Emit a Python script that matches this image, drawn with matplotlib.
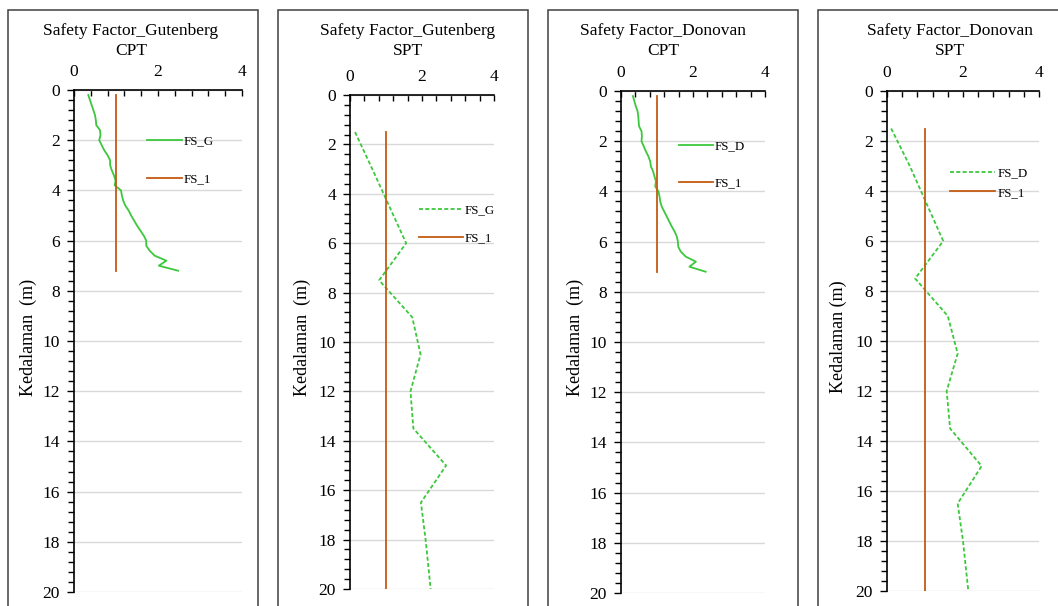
import matplotlib
matplotlib.use("Agg")
from matplotlib import pyplot as plt
from matplotlib.patches import Rectangle
from matplotlib.ticker import MultipleLocator

plt.rcParams['font.family'] = ['Liberation Serif', 'DejaVu Serif']

W, H = 1058, 606

# --- data ---
depth_cpt = [0.2, 0.4, 0.6, 0.8, 1.0, 1.2, 1.4, 1.6, 1.8, 2.0, 2.2, 2.4,
             2.6, 2.8, 3.0, 3.2, 3.4, 3.6, 3.8, 4.0, 4.2, 4.4, 4.6, 4.8,
             5.0, 5.2, 5.4, 5.6, 5.8, 6.0, 6.2, 6.4, 6.6, 6.8, 7.0, 7.2]
fs_g_cpt = [0.34, 0.38, 0.42, 0.46, 0.50, 0.52, 0.53, 0.62, 0.63, 0.60, 0.66, 0.72,
            0.80, 0.86, 0.86, 0.90, 0.95, 0.99, 0.97, 1.12, 1.14, 1.17, 1.22, 1.30,
            1.36, 1.43, 1.50, 1.58, 1.66, 1.72, 1.72, 1.80, 1.92, 2.20, 2.02, 2.48]
fs_d_cpt = [0.33, 0.37, 0.41, 0.46, 0.48, 0.49, 0.50, 0.57, 0.58, 0.57, 0.63, 0.69,
            0.76, 0.81, 0.83, 0.89, 0.93, 0.97, 0.95, 1.04, 1.07, 1.09, 1.13, 1.20,
            1.27, 1.34, 1.41, 1.49, 1.55, 1.58, 1.59, 1.66, 1.80, 2.08, 1.90, 2.35]

depth_spt = [1.5, 3.0, 4.5, 6.0, 7.5, 9.0, 10.5, 12.0, 13.5, 15.0, 16.5, 18.0, 20.0]
fs_g_spt = [0.14, 0.62, 1.09, 1.56, 0.81, 1.73, 1.96, 1.68, 1.76, 2.67, 1.97, 2.10, 2.24]
fs_d_spt = [0.11, 0.60, 1.04, 1.48, 0.74, 1.60, 1.86, 1.57, 1.66, 2.49, 1.86, 2.00, 2.14]

fs_limit = 1.0

GREEN = '#3CC83C'
ORANGE = '#C55A11'

fig = plt.figure(figsize=(W / 100, H / 100), dpi=100)


def px_axes(left, right, top, bottom):
    return fig.add_axes([left / W, 1 - bottom / H, (right - left) / W, (bottom - top) / H])


# chart area frames (left, right) in pixels
frames = [(8, 258), (278, 528), (548, 798), (818, 1080)]
for l, r in frames:
    fig.patches.append(Rectangle((l / W, -0.1), (r - l) / W, (H - 10) / H + 0.1,
                                 transform=fig.transFigure, fill=False,
                                 edgecolor='#404040', linewidth=1.1))

panels = [
    dict(box=(74, 242, 90, 592), title="Safety Factor_Gutenberg\nCPT", tx=131,
         depth=depth_cpt, fs=fs_g_cpt, label="FS_G", dashed=False,
         ylab_x=28, ylab="Kedalaman  (m)",
         leg=(147, 141, 2.7, 2.05)),
    dict(box=(350, 494, 95, 589), title="Safety Factor_Gutenberg\nSPT", tx=408,
         depth=depth_spt, fs=fs_g_spt, label="FS_G", dashed=True,
         ylab_x=302, ylab="Kedalaman  (m)",
         leg=(419, 210, 3.4, 1.25)),
    dict(box=(621, 765, 91, 593), title="Safety Factor_Donovan\nCPT", tx=663,
         depth=depth_cpt, fs=fs_d_cpt, label="FS_D", dashed=False,
         ylab_x=575, ylab="Kedalaman  (m)",
         leg=(679, 146, 2.6, 1.95)),
    dict(box=(887, 1039, 91, 591), title="Safety Factor_Donovan\nSPT", tx=950,
         depth=depth_spt, fs=fs_d_spt, label="FS_D", dashed=True,
         ylab_x=838, ylab="Kedalaman (m)",
         leg=(950, 173, 3.5, 0.6)),
]

for p in panels:
    l, r, t, b = p['box']
    ax = px_axes(l, r, t, b)
    ls = (0, (2.2, 1.3)) if p['dashed'] else '-'
    ax.plot(p['fs'], p['depth'], color=GREEN, lw=1.3, linestyle=ls, label=p['label'])
    ax.plot([fs_limit] * 2, [p['depth'][0], p['depth'][-1]], color=ORANGE, lw=1.3, label="FS_1")

    ax.set_xlim(0, 4)
    ax.set_ylim(20, 0)
    ax.xaxis.set_major_locator(MultipleLocator(2))
    ax.xaxis.set_minor_locator(MultipleLocator(0.4))
    ax.yaxis.set_major_locator(MultipleLocator(2))
    ax.yaxis.set_minor_locator(MultipleLocator(0.4))
    ax.xaxis.tick_top()
    ax.tick_params(axis='x', which='major', direction='in', length=4, width=1, labelsize=12.5, pad=7)
    ax.tick_params(axis='x', which='minor', direction='in', length=4, width=1)
    ax.tick_params(axis='y', which='major', direction='out', length=5, width=1, labelsize=12.5, pad=5)
    ax.tick_params(axis='y', which='minor', direction='out', length=4, width=1)
    for s in ['right', 'bottom']:
        ax.spines[s].set_visible(False)
    for s in ['left', 'top']:
        ax.spines[s].set_linewidth(1.2)
        ax.spines[s].set_color('black')
    ax.grid(axis='y', which='major', color='#D9D9D9', lw=1)
    ax.set_axisbelow(True)

    fig.text(p['tx'] / W, 1 - 41 / H, p['title'], ha='center', va='center',
             fontsize=12.5, linespacing=1.3)
    fig.text(p['ylab_x'] / W, 1 - 337 / H, p['ylab'], rotation=90,
             ha='center', va='center', fontsize=13)

    lx, ly, hl, sp = p['leg']
    ax.legend(loc='upper left', bbox_to_anchor=(lx / W, 1 - (ly - 6) / H),
              bbox_transform=fig.transFigure, frameon=False, fontsize=9.3,
              handlelength=hl, handletextpad=0.15, labelspacing=sp,
              borderpad=0, borderaxespad=0)

plt.savefig("out.png", dpi=100)
plt.close()
